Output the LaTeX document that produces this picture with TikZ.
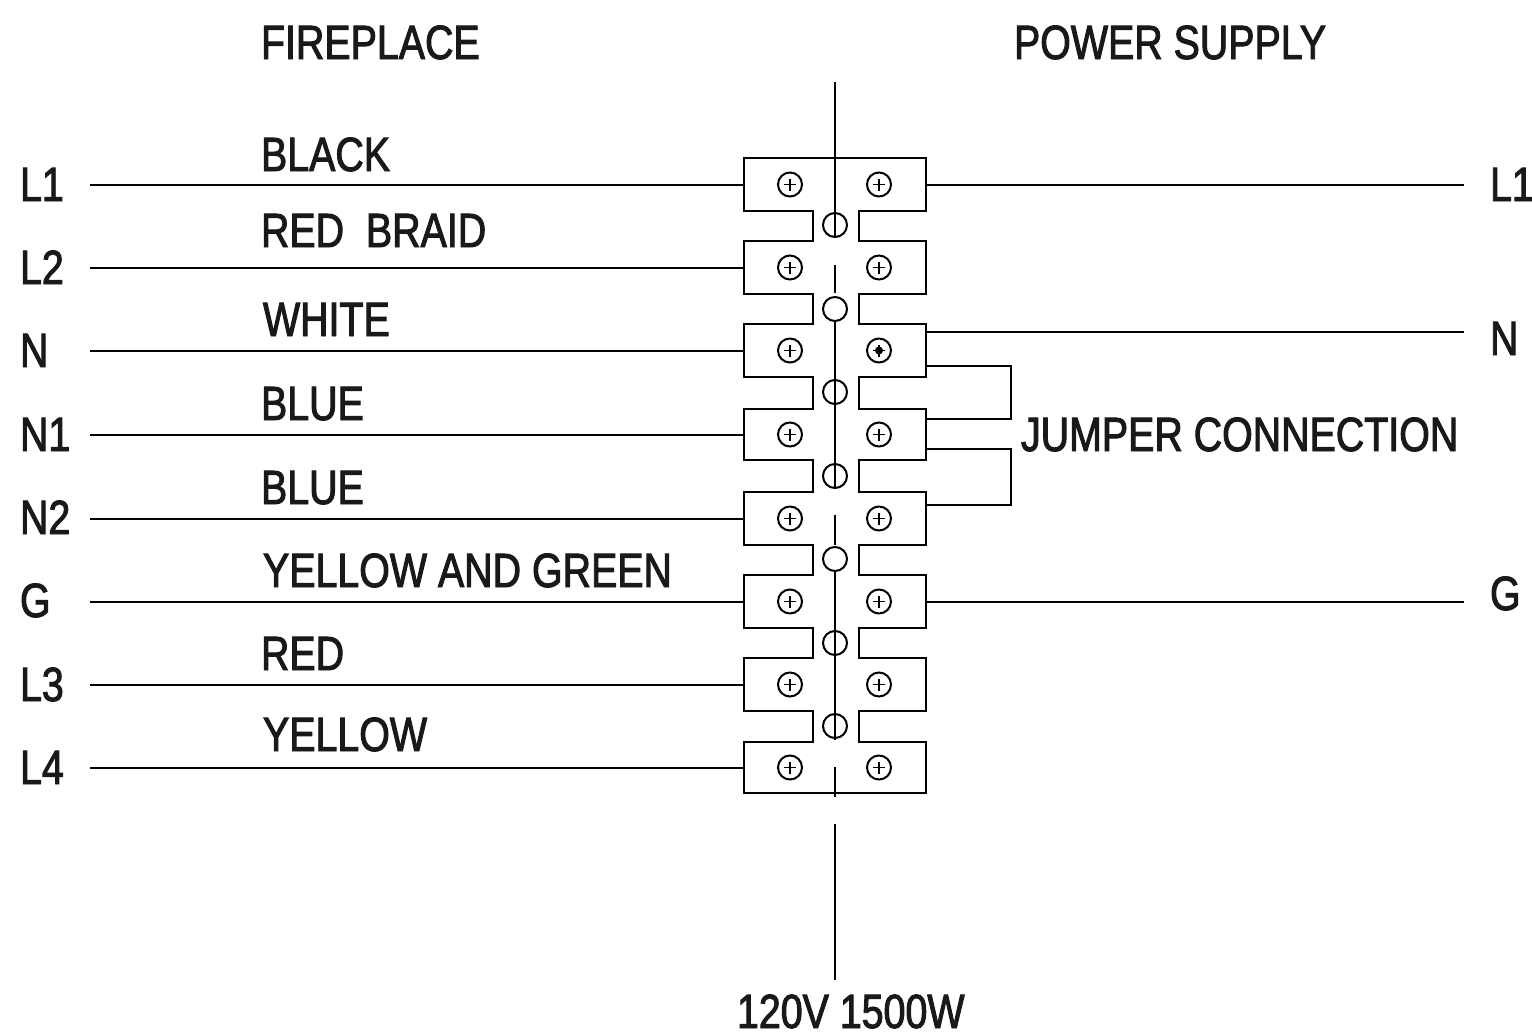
\documentclass[tikz,border=0pt]{standalone}
\usepackage{fontspec}
\setmainfont[FakeStretch=0.82, FakeBold=2]{Liberation Sans}

\tikzset{
    wire/.style = {line width = 2pt},
    frame/.style = {line width = 2pt, line cap = rect},
    block/.style = {shape = rectangle, minimum width = 182pt, inner sep = 0pt, outer sep = 0pt},
    screw/.style = {shape = circle, draw, line width = 2pt, minimum size = 24pt, inner sep = 0pt,
        path picture = {\draw[line width = 1.4pt]
            (path picture bounding box.center) +(-6pt,0) -- +(6pt,0)
            (path picture bounding box.center) +(0,-6pt) -- +(0,6pt);}},
    hole/.style = {shape = circle, draw, line width = 2pt, minimum size = 24pt, inner sep = 0pt},
    txt/.style = {anchor = base west, inner sep = 0pt, outer sep = 0pt,
        font = \fontsize{48}{50}\selectfont, text = black!90}
}

\begin{document}
\begin{tikzpicture}[x = 1pt, y = -1pt]
    \fill[white] (0,0) rectangle (1532,1036);
    \useasboundingbox (0,0) rectangle (1532,1036);

    \node[txt] (fireplace) at (261,59) {FIREPLACE};
    \node[txt] (supply) at (1014,59) {POWER SUPPLY};
    \node[txt] (jumper) at (1021,451) {JUMPER CONNECTION};
    \node[txt] (rating) at (737,1028) {120V 1500W};

    \foreach \n/\y/\h in {1/184.5/53, 2/267.5/53, 3/350.5/53, 4/434.5/51,
                          5/518.5/53, 6/601.5/53, 7/684.5/53, 8/767.5/51}{
        \node[block, minimum height = \h pt] (t\n) at (835,\y) {};
        \node[screw] (a\n) at (790,\y) {};
        \node[screw] (b\n) at (879,\y) {};
    }

    \foreach \n/\y in {1/225, 2/309, 3/392, 4/476, 5/559, 6/643, 7/726}
        \node[hole] (h\n) at (835,\y) {};

    \fill (b3.center) circle (4pt);

    \draw[frame] (t1.south west) -- (t1.north west) -- (t1.north east) -- (t1.south east);
    \draw[frame] (t8.north west) -- (t8.south west) -- (t8.south east) -- (t8.north east);
    \foreach \n/\m in {1/2, 2/3, 3/4, 4/5, 5/6, 6/7, 7/8}{
        \draw[frame] (t\n.north west) -- (t\n.south west) -- ([xshift = -22pt]t\n.south)
            -- ([xshift = -22pt]t\m.north) -- (t\m.north west) -- (t\m.south west);
        \draw[frame] (t\n.north east) -- (t\n.south east) -- ([xshift = 24pt]t\n.south)
            -- ([xshift = 24pt]t\m.north) -- (t\m.north east) -- (t\m.south east);
    }

    \foreach \a/\b in {82/238, 265/293, 322/488, 515/545, 570/740, 767/797, 824/980}
        \draw[wire] (835,\a) -- (835,\b);

    \foreach \n/\name/\y in {1/L1/201, 2/L2/284, 3/N/367, 4/N1/451,
                             5/N2/534, 6/G/617, 7/L3/701, 8/L4/784}{
        \node[txt, text width = 70pt] (lab\n) at (20,\y) {\name};
        \draw[wire] (lab\n.east |- t\n.west) -- (t\n.west);
    }

    \foreach \n/\name/\x/\y in {1/BLACK/261/171, 2/RED\ \ BRAID/261/247, 3/WHITE/263/336,
                                4/BLUE/261/420, 5/BLUE/261/504, 6/YELLOW AND GREEN/263/587,
                                7/RED/261/670, 8/YELLOW/263/751}
        \node[txt] (col\n) at (\x,\y) {\name};

    \coordinate (p1) at (1464,185);
    \coordinate (p3) at (1464,332);
    \coordinate (p6) at (1464,602);
    \node[txt] (r1) at (1490,201) {L1};
    \node[txt] (r3) at (1490,355) {N};
    \node[txt] (r6) at (1490,610) {G};
    \draw[wire] (p1 -| t1.east) -- (p1);
    \draw[wire] (p3 -| t3.east) -- (p3);
    \draw[wire] (p6 -| t6.east) -- (p6);

    \coordinate (j1) at (1011,366);
    \coordinate (j2) at (1011,419);
    \coordinate (j3) at (1011,449);
    \coordinate (j4) at (1011,505);
    \draw[frame] (j1 -| t3.east) -- (j1) -- (j2) -- (j2 -| t4.east);
    \draw[frame] (j3 -| t4.east) -- (j3) -- (j4) -- (j4 -| t5.east);
\end{tikzpicture}
\end{document}
